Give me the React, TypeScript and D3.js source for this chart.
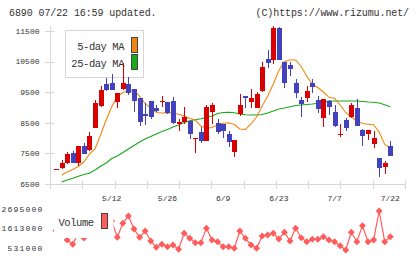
import * as d3 from "d3";

// trading days shown on the chart (2025)
const dates = [
  "4/23", "4/24", "4/25", "4/28", "4/30", "5/1", "5/2", "5/7", "5/8", "5/9",
  "5/12", "5/13", "5/14", "5/15", "5/16", "5/19", "5/20", "5/21", "5/22", "5/23",
  "5/26", "5/27", "5/28", "5/29", "5/30", "6/2", "6/3", "6/4", "6/5", "6/6",
  "6/9", "6/10", "6/11", "6/12", "6/13", "6/16", "6/17", "6/18", "6/19", "6/20",
  "6/23", "6/24", "6/25", "6/26", "6/27", "6/30", "7/1", "7/2", "7/3", "7/4",
  "7/7", "7/8", "7/9", "7/10", "7/11", "7/14", "7/15", "7/16", "7/17", "7/18",
  "7/22",
];

const opens = [
  6980, 7030, 7180, 7500, 7200, 7740, 7610, 8340, 9050, 9780,
  9790, 9170, 9610, 9760, 9590, 9320, 8790, 9210, 8970, 9190,
  9170, 9210, 8450, 8510, 8570, 7980, 8210, 7920, 8860, 8500,
  8450, 8130, 7560, 8780, 9380, 9190, 8990, 9550, 10570, 10560,
  11590, 10480, 10390, 9790, 9250, 9320, 9790, 9245, 8650, 9220,
  8840, 8110, 8590, 8700, 8970, 8250, 8140, 7800, 7340, 7060,
  7740,
];
const highs = [
  6985, 7280, 7560, 7580, 7740, 7830, 8190, 9245, 9700, 9950,
  10090, 9460, 10450, 10010, 9590, 9320, 9140, 9210, 9080, 9370,
  9190, 9350, 8610, 9030, 8570, 8010, 8370, 9080, 9140, 8610,
  8450, 8230, 7940, 9430, 9380, 9590, 9510, 10480, 10880, 11660,
  11620, 10480, 10480, 9920, 9350, 9710, 9930, 9390, 9280, 9250,
  9080, 8450, 8670, 9140, 9280, 8300, 8255, 8230, 7360, 7250,
  7900,
];
const lows = [
  6975, 6990, 7140, 7180, 7080, 7470, 7580, 8330, 9030, 9550,
  9560, 9000, 9570, 9410, 8840, 8400, 8430, 8620, 8840, 9030,
  8780, 8470, 8240, 8460, 7960, 7500, 7830, 7915, 8450, 8120,
  8010, 7720, 7390, 8730, 8990, 8990, 8970, 9520, 10280, 10430,
  10560, 9630, 10040, 9320, 8700, 9190, 9480, 8830, 8370, 8750,
  8370, 8040, 8230, 8670, 8400, 7750, 7930, 7690, 6740, 6840,
  7430,
];
const closes = [
  6980, 7180, 7470, 7200, 7740, 7470, 8080, 9160, 9570, 9580,
  9570, 9460, 9800, 9460, 9210, 8540, 8730, 8700, 8890, 9210,
  8810, 8500, 8540, 8690, 8120, 8000, 7920, 9030, 9080, 8210,
  8240, 7860, 7940, 9080, 9300, 9320, 9430, 10310, 10440, 11590,
  10560, 9790, 10250, 9460, 9100, 9540, 9680, 8940, 9280, 9030,
  8400, 8130, 8320, 9080, 8400, 8080, 8255, 7990, 7010, 7180,
  7430,
];

// moving averages as drawn on the reference
const ma5 = [
  null, 6794, 6892, 6974, 7072, 7219, 7480, 7644, 8101, 8591,
  9027, 9360, 9490, 9549, 9555, 9369, 9131, 8980, 8837, 8820,
  8827, 8820, 8778, 8722, 8640, 8591, 8395, 8320, 8346, 8428,
  8483, 8503, 8444, 8297, 8287, 8461, 8690, 9049, 9376, 9768,
  10209, 10503, 10552, 10552, 10340, 10029, 9751, 9653, 9507, 9333,
  9301, 9082, 8837, 8690, 8559, 8477, 8454, 8435, 8199, 7791,
  7676,
];
const ma25 = [
  null, 6565, 6631, 6686, 6755, 6810, 6853, 6958, 7079, 7186,
  7333, 7415, 7529, 7644, 7758, 7873, 7971, 8052, 8134, 8216,
  8281, 8363, 8428, 8510, 8565, 8598, 8631, 8673, 8722, 8804,
  8837, 8843, 8830, 8788, 8761, 8755, 8755, 8771, 8820, 8886,
  8951, 8984, 9027, 9066, 9082, 9098, 9114, 9137, 9180, 9212,
  9212, 9212, 9212, 9212, 9212, 9196, 9180, 9173, 9147, 9091,
  9026,
];

const volumes = [
  1500000, 1700000, 990000, 751000, 1370000, 1100000, 2200000, 2600000, 2400000, 2300000,
  2030000, 1137000, 1908000, 2310000, 1594000, 1137000, 1484000, 933000, 586000, 751000,
  619000, 713000, 476000, 1357000, 1082000, 839000, 839000, 1632000, 988000, 894000,
  619000, 619000, 531000, 1484000, 1082000, 713000, 531000, 1208000, 1263000, 1357000,
  1043000, 1412000, 933000, 1632000, 1115000, 894000, 1027000, 1027000, 1170000, 988000,
  894000, 674000, 437000, 1412000, 894000, 1775000, 894000, 988000, 2585000, 894000,
  1170000,
];

const priceTicks = [6500, 7500, 8500, 9500, 10500, 11500];
const volumeTicks = [531000, 1613000, 2695000];
const dateTicks = ["5/12", "5/26", "6/9", "6/23", "7/7", "7/22"];

const RED = "#d80000";
const BLUE = "#4242bd";
const ORANGE = "#f0860f";
const GREEN = "#18a818";
const VOL = "#ff5c5c";
const AXIS = "#d6d6d6";
const TEXT = "#333";
const MONO = "'Liberation Mono', 'DejaVu Sans Mono', monospace";

export default function App() {
  const x = d3.scalePoint<string>().domain(dates).range([56, 390.3]);
  const y = d3.scaleLinear().domain([6500, 11500]).range([184, 31]);
  const yv = d3.scaleLinear().domain([531000, 2695000]).range([248.3, 209]);
  const grid = d3.scaleLinear().domain([0, 11]).range([50.5, 405.5]);

  const maLine = d3
    .line<number | null>()
    .defined((d) => d != null)
    .x((_d, i) => x(dates[i])!)
    .y((d) => y(d as number));

  const volLine = d3
    .line<number>()
    .x((_d, i) => x(dates[i])!)
    .y((d) => yv(d));

  const diamond = d3.symbol().type(d3.symbolSquare).size(24)();

  return (
    <svg
      width={420}
      height={259}
      style={{ position: "absolute", left: 0, top: 0, background: "#fff" }}
    >
      <defs>
        <clipPath id="volclip">
          <rect x={45} y={204} width={370} height={55} />
        </clipPath>
      </defs>

      <text x={9} y={16} fontFamily={MONO} fontSize={10} letterSpacing={-0.1} fill={TEXT}>
        6890 07/22 16:59 updated.
      </text>
      <text x={409} y={16} textAnchor="end" fontFamily={MONO} fontSize={10} letterSpacing={-0.1} fill={TEXT}>
        (C)https://www.rizumu.net/
      </text>

      {/* axes */}
      <g shapeRendering="crispEdges" stroke={AXIS}>
        <line x1={50.5} x2={50.5} y1={26} y2={189} />
        <line x1={47} x2={405.5} y1={184.5} y2={184.5} />
        {d3.range(12).map((k) => (
          <line key={k} x1={grid(k)} x2={grid(k)} y1={181} y2={189} />
        ))}
        {priceTicks.map((p) => (
          <line key={p} x1={45} x2={54} y1={Math.round(y(p)) + 0.5} y2={Math.round(y(p)) + 0.5} />
        ))}
      </g>
      {priceTicks.map((p) => (
        <text key={p} x={39.5} y={y(p)} dy="0.35em" textAnchor="end" fontFamily={MONO} fontSize={8} fill={TEXT}>
          {p}
        </text>
      ))}
      {dateTicks.map((d) => (
        <text key={d} x={x(d)} y={201} textAnchor="middle" fontFamily={MONO} fontSize={8} fill={TEXT}>
          {d}
        </text>
      ))}

      {/* price legend */}
      <g>
        <rect x={65.5} y={30.5} width={78} height={47} fill="#fff" stroke={AXIS} />
        <text x={124} y={49.5} textAnchor="end" fontFamily={MONO} fontSize={10.5} letterSpacing={-0.45} fill={TEXT}>
          5-day MA
        </text>
        <text x={124} y={66.5} textAnchor="end" fontFamily={MONO} fontSize={10.5} letterSpacing={-0.45} fill={TEXT}>
          25-day MA
        </text>
        <rect x={131.5} y={37.5} width={6} height={15} fill={ORANGE} stroke="#444" />
        <rect x={131.5} y={54.5} width={6} height={15} fill={GREEN} stroke="#444" />
      </g>

      {/* moving averages */}
      <path d={maLine(ma25) ?? ""} fill="none" stroke={GREEN} strokeWidth={1.1} />
      <path d={maLine(ma5) ?? ""} fill="none" stroke={ORANGE} strokeWidth={1.1} />

      {/* candles */}
      <g shapeRendering="crispEdges">
        {dates.map((d, i) => {
          const cx = Math.round(x(d)!);
          const col = closes[i] >= opens[i] ? RED : BLUE;
          const top = y(Math.max(opens[i], closes[i]));
          const bot = y(Math.min(opens[i], closes[i]));
          return (
            <g key={d}>
              <line x1={cx + 0.5} x2={cx + 0.5} y1={y(highs[i])} y2={y(lows[i])} stroke={col} />
              <rect x={cx - 2} y={top} width={5} height={Math.max(1, bot - top)} fill={col} />
            </g>
          );
        })}
      </g>

      {/* volume */}
      <g clipPath="url(#volclip)">
        <path d={volLine(volumes) ?? ""} fill="none" stroke={VOL} strokeWidth={1.2} />
        {volumes.map((v, i) => (
          <path
            key={i}
            d={diamond ?? ""}
            transform={`translate(${x(dates[i])},${yv(v)}) rotate(45)`}
            fill={VOL}
          />
        ))}
      </g>
      {volumeTicks.map((v) => (
        <text key={v} x={43.5} y={yv(v)} dy="0.35em" textAnchor="end" fontFamily={MONO} fontSize={8} letterSpacing={1.2} fill={TEXT}>
          {v}
        </text>
      ))}
      <rect x={54} y={203} width={59.5} height={35} fill="#fff" />
      <text x={58.5} y={225.5} fontFamily={MONO} fontSize={10.5} letterSpacing={-0.45} fill={TEXT}>
        Volume
      </text>
      <rect x={101.5} y={213.5} width={6} height={15} fill={VOL} stroke="#444" />
    </svg>
  );
}
